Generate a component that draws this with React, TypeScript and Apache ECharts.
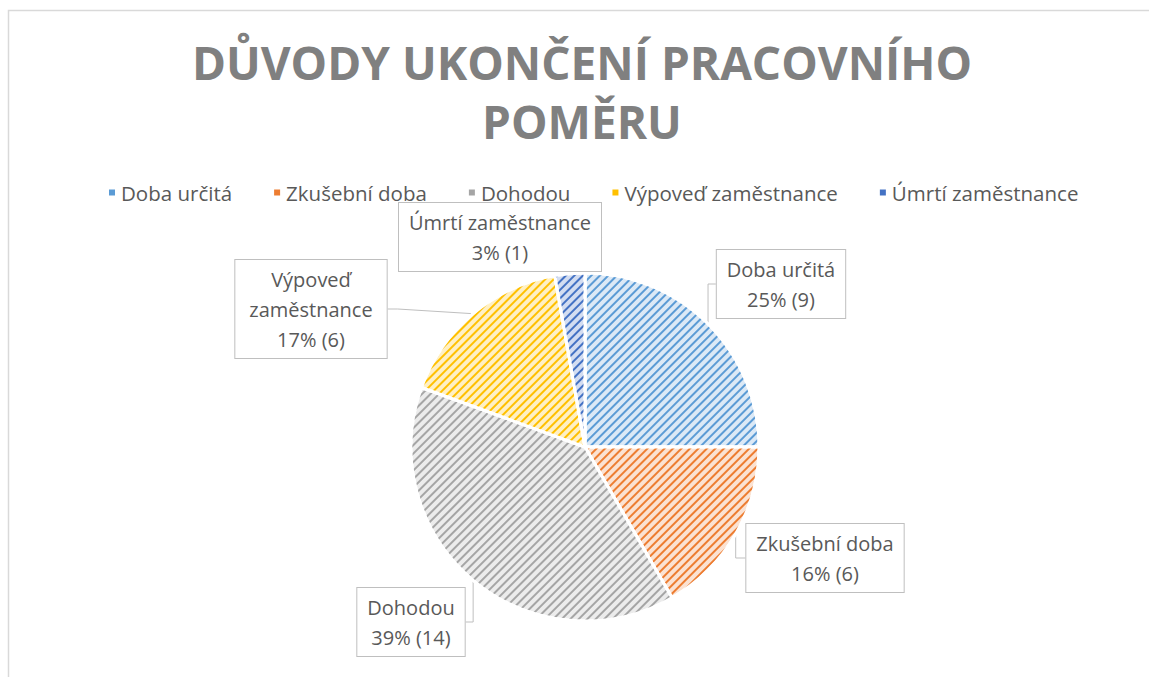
import React, { useEffect, useRef } from "react";
import * as echarts from "echarts";

const titleText = "DŮVODY UKONČENÍ PRACOVNÍHO\nPOMĚRU";
const categories = [
  "Doba určitá",
  "Zkušební doba",
  "Dohodou",
  "Výpoveď zaměstnance",
  "Úmrtí zaměstnance",
];
const counts = [9, 6, 14, 6, 1];
const percents = [25, 16, 39, 17, 3];
const colors = ["#5B9BD5", "#ED7D31", "#A5A5A5", "#FFC000", "#4472C4"];
const tints = ["#DCE9F6", "#FBE2D2", "#ECECEC", "#FFF0C4", "#D3DDF1"];

// label box centres (layout only)
const labelPos: [number, number][] = [
  [781, 284],
  [825, 558],
  [411, 622],
  [311, 309],
  [500, 237],
];

const wrapName = (s: string) => (s.length > 18 ? s.replace(" ", "\n") : s);

export default function App() {
  const ref = useRef<HTMLDivElement>(null);
  useEffect(() => {
    if (!ref.current) return;
    const chart = echarts.init(ref.current, null, { renderer: "svg" });
    const font = "Open Sans";
    const data = categories.map((name, i) => ({
      name,
      value: counts[i],
      itemStyle: {
        color: tints[i],
        decal: {
          symbol: "rect",
          symbolSize: 1,
          color: colors[i],
          dashArrayX: [1, 0],
          dashArrayY: [1.6, 3.4],
          rotation: -Math.PI / 4,
        },
      },
      label: name.length > 18 ? { padding: [4, 14] } : undefined,
    }));
    chart.setOption({
      animation: false,
      backgroundColor: "#fff",
      graphic: [
        {
          type: "rect",
          shape: { x: 8.5, y: 10.5, width: 1170, height: 720 },
          style: { fill: "none", stroke: "#d9d9d9", lineWidth: 1.5 },
          silent: true,
        },
        {
          type: "text",
          x: 582,
          y: 32,
          style: {
            text: titleText,
            textAlign: "center",
            fill: "#808080",
            fontFamily: font,
            fontWeight: "bold",
            fontSize: 46,
            lineHeight: 59,
          },
        },
      ],
      legend: {
        left: 102,
        top: 177,
        icon: "rect",
        itemWidth: 8,
        itemHeight: 8,
        itemGap: 40,
        textStyle: { fontFamily: font, fontSize: 20.5, color: "#595959" },
        data: categories.map((n, i) => ({ name: n, itemStyle: { color: colors[i], decal: "none" } })),
      },
      series: [
        {
          type: "pie",
          center: [585, 447],
          radius: 174,
          startAngle: 90,
          clockwise: true,
          data,
          itemStyle: { borderColor: "#fff", borderWidth: 3 },
          label: {
            show: true,
            position: "outside",
            formatter: (p: any) =>
              `${wrapName(p.name)}\n${percents[p.dataIndex]}% (${p.value})`,
            fontFamily: font,
            fontSize: 20,
            lineHeight: 30,
            color: "#595959",
            align: "center",
            backgroundColor: "#fff",
            borderColor: "#bfbfbf",
            borderWidth: 1,
            padding: [4, 10],
          },
          labelLine: {
            show: true,
            length: 10,
            length2: 10,
            lineStyle: { color: "#bfbfbf", width: 1 },
          },
          labelLayout: (params: any) => {
            const p = labelPos[params.dataIndex];
            return { x: p[0], y: p[1], align: "center", verticalAlign: "middle" };
          },
        },
      ],
    });
    return () => chart.dispose();
  }, []);
  return (
    <div
      ref={ref}
      style={{ position: "absolute", left: 0, top: 0, width: 1149, height: 677 }}
    />
  );
}
